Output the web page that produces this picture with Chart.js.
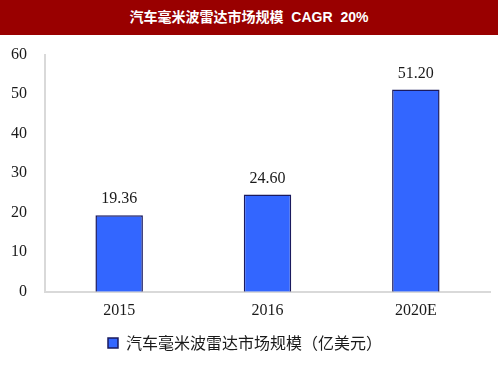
<!DOCTYPE html>
<html>
<head>
<meta charset="utf-8">
<script src="https://cdn.jsdelivr.net/npm/chart.js@4"></script>
<style>
    body { margin: 0; background: #ffffff; }
    #title {
        width: 498px; height: 35px; background: #990000; color: #ffffff;
        font: bold 14px "Liberation Sans", "Noto Sans CJK SC", sans-serif;
        text-align: center; line-height: 35px; word-spacing: 4px;
    }
    #wrap { width: 500px; height: 340px; position: relative; }
</style>
</head>
<body>
<div id="title">汽车毫米波雷达市场规模 CAGR 20%</div>
<div id="wrap"><canvas id="chart"></canvas></div>
<script>
var years = ["2015", "2016", "2020E"];
var marketSize = [19.36, 24.60, 51.20];
var seriesName = "汽车毫米波雷达市场规模（亿美元）";

// draw value labels above bars
var valueLabels = {
    id: "valueLabels",
    afterDatasetsDraw: function (chart) {
        var ctx = chart.ctx;
        var meta = chart.getDatasetMeta(0);
        ctx.save();
        ctx.fillStyle = "#1a1a1a";
        ctx.font = "16px 'Liberation Serif', serif";
        ctx.textAlign = "center";
        ctx.textBaseline = "bottom";
        meta.data.forEach(function (bar, i) {
            ctx.fillText(marketSize[i].toFixed(2), bar.x, bar.y - 8);
        });
        ctx.restore();
    }
};

var canvas = document.getElementById("chart");
new Chart(canvas, {
    type: "bar",
    data: {
        labels: years,
        datasets: [{
            label: seriesName,
            data: marketSize,
            backgroundColor: "#3366ff",
            borderColor: "#1a1a5e",
            borderWidth: 1.5,
            categoryPercentage: 1,
            barPercentage: 0.32
        }]
    },
    options: {
        responsive: true,
        maintainAspectRatio: false,
        animation: false,
        layout: { padding: { top: 9, right: 10, left: 0, bottom: 14 } },
        scales: {
            x: {
                grid: { display: false, drawTicks: false },
                border: { color: "#d9d9d9", width: 2 },
                ticks: {
                    color: "#1a1a1a",
                    padding: 9,
                    font: { family: "'Liberation Serif', serif", size: 16 }
                }
            },
            y: {
                min: 0,
                max: 60,
                afterFit: function (axis) { axis.width = 45; },
                grid: { display: false },
                border: { color: "#d9d9d9", width: 2 },
                ticks: {
                    stepSize: 10,
                    color: "#1a1a1a",
                    padding: 10,
                    font: { family: "'Liberation Serif', serif", size: 16 }
                }
            }
        },
        plugins: {
            legend: {
                position: "bottom",
                labels: {
                    color: "#1a1a1a",
                    boxWidth: 10,
                    boxHeight: 10,
                    padding: 6,
                    font: { family: "'Noto Sans CJK SC', sans-serif", size: 16 }
                }
            },
            tooltip: { enabled: false }
        }
    },
    plugins: [valueLabels]
});
</script>
</body>
</html>
